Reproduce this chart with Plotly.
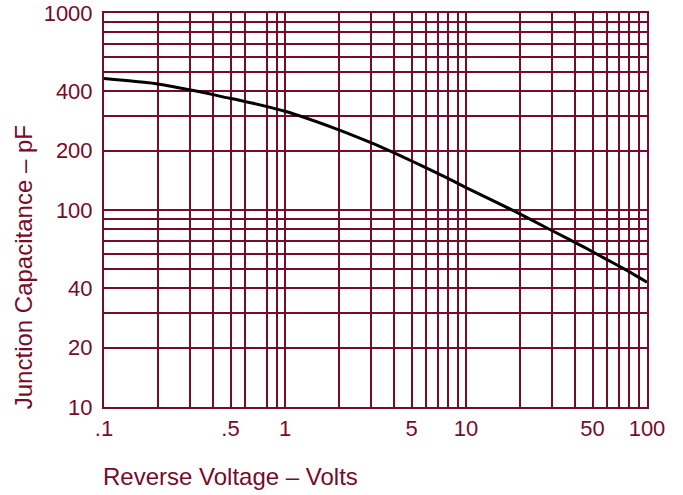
import plotly.graph_objects as go

# Curve data
voltage = [0.1, 0.19, 0.28, 0.36, 0.46, 0.56, 1, 1.9, 2.8, 3.6, 4.6, 5.6, 7.8, 10,
           19, 28, 36, 46, 57, 77, 100]
capacitance = [465, 439, 412, 394, 374, 361, 317, 259, 225, 204, 184, 169, 146, 130,
               97.5, 81, 72, 64, 57.5, 49.5, 43]

# Grid / tick definitions
x_grid = [0.1, 0.2, 0.3, 0.4, 0.5, 0.6, 0.8, 0.9,
          1, 2, 3, 4, 5, 6, 7, 8, 9,
          10, 20, 30, 40, 50, 60, 70, 80, 90, 100]
x_labels = {0.1: ".1", 0.5: ".5", 1: "1", 5: "5", 10: "10", 50: "50", 100: "100"}
y_grid = [10, 20, 30, 40, 50, 60, 70, 80, 90,
          100, 200, 300, 400, 500, 600, 700, 800, 900, 1000]
y_labels = {10: "10", 20: "20", 40: "40", 100: "100", 200: "200", 400: "400", 1000: "1000"}

x_title = "Reverse Voltage \u2013 Volts"
y_title = "Junction Capacitance \u2013 pF"

MAROON = "#780a2a"
FONT = "Liberation Sans, Arial, sans-serif"

fig = go.Figure()
fig.add_trace(go.Scatter(
    x=voltage, y=capacitance, mode="lines",
    line=dict(color="black", width=3, shape="spline", smoothing=0.5),
    hoverinfo="skip", showlegend=False,
))

fig.update_layout(
    width=683, height=495,
    margin=dict(l=104, r=36, t=13, b=88),
    paper_bgcolor="white", plot_bgcolor="white",
    font=dict(family=FONT, color=MAROON, size=22),
    showlegend=False,
)
common = dict(
    type="log", automargin=False, tickmode="array",
    showgrid=True, gridcolor=MAROON, gridwidth=2,
    showline=True, linecolor=MAROON, linewidth=2, mirror=True,
    ticks="outside", tickcolor="rgba(0,0,0,0)",
    tickfont=dict(size=22, color=MAROON, family=FONT),
    zeroline=False, ticklabeloverflow="allow",
)
fig.update_xaxes(
    range=[-1, 2], tickvals=x_grid, ticklen=1,
    ticktext=[x_labels.get(v, "") for v in x_grid], **common,
)
fig.update_yaxes(
    range=[1, 3], tickvals=y_grid, ticklen=5,
    ticktext=[y_labels.get(v, "") for v in y_grid], **common,
)
fig.add_annotation(
    text=x_title, xref="paper", yref="paper",
    x=-0.006, y=-0.176, xanchor="left", yanchor="middle",
    showarrow=False, font=dict(size=24, color=MAROON, family=FONT),
)
fig.add_annotation(
    text=y_title, xref="paper", yref="paper",
    x=-0.149, y=0.355, xanchor="center", yanchor="middle", textangle=-90,
    showarrow=False, font=dict(size=24, color=MAROON, family=FONT),
)

fig.write_html("out.html", config={"displayModeBar": False},
               post_script="document.body.style.margin='0';")
